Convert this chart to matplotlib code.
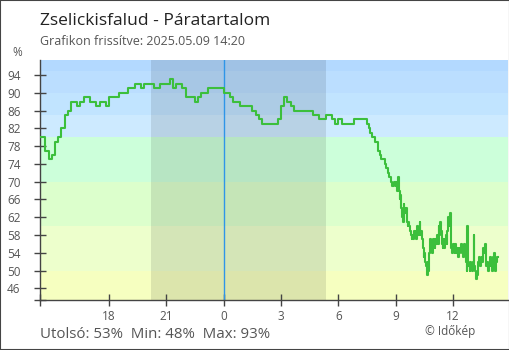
import numpy as np
import matplotlib.pyplot as plt
from matplotlib.patches import Rectangle

plt.rcParams['font.family'] = ['Open Sans', 'DejaVu Sans']

# humidity (%): 10 minute readings from 14:20 yesterday, 5 minute readings from 07:30,
# 2.5 minute readings from 09:00
humid_10min = [
    80, 80, 77, 75, 76, 79, 80, 82, 85, 86, 88, 88, 87, 88, 89, 89, 88, 88, 87, 88,
    88, 87, 89, 89, 89, 90, 90, 90, 91, 91, 92, 92, 91, 92, 92, 92, 91, 91, 92, 92,
    92, 93, 91, 92, 92, 91, 89, 89, 89, 88, 89, 90, 90, 91, 91, 91, 91, 91, 90, 90,
    89, 88, 88, 87, 87, 87, 87, 86, 85, 84, 83, 83, 83, 83, 83, 84, 87, 89, 88, 87,
    86, 86, 86, 86, 86, 86, 85, 85, 84, 84, 85, 85, 84, 83, 84, 83, 83, 83, 83, 84,
    84, 84, 84,
]
humid_5min = [
    83, 82, 81, 80, 80, 79, 79, 77, 76, 75, 75, 74, 73, 72, 71, 70, 69, 70,
]
humid_2min = [
    69, 70, 68, 71, 68, 66, 67, 64, 62, 61, 65, 64, 63, 64, 61, 60, 61, 60,
    59, 58, 57, 58, 57, 59, 58, 59, 57, 60, 58, 59, 61, 58, 59, 57, 55, 53,
    54, 52, 51, 49, 52, 50, 54, 57, 55, 56, 54, 57, 56, 55, 57, 56, 58, 56,
    60, 58, 61, 59, 56, 55, 57, 55, 57, 58, 56, 59, 62, 60, 63, 59, 55, 54,
    56, 55, 54, 56, 54, 55, 53, 55, 54, 55, 56, 54, 55, 53, 56, 54, 52, 50,
    60, 51, 51, 50, 52, 51, 50, 52, 58, 51, 50, 48, 49, 51, 52, 53, 51, 52,
    53, 52, 55, 54, 56, 54, 51, 52, 50, 51, 52, 53, 51, 50, 53, 52, 54, 50,
    52, 53, 53,
]
start_hour = -9 - 40 / 60      # 14:20 the day before
hours = np.concatenate([
    start_hour + np.arange(len(humid_10min)) / 6,
    7.5 + np.arange(len(humid_5min)) / 12,
    9.0 + np.arange(len(humid_2min)) / 24,
])
humidity = np.array(humid_10min + humid_5min + humid_2min)

tick_hours = [-6, -3, 0, 3, 6, 9, 12]
tick_labels = ['18', '21', '0', '3', '6', '9', '12']
y_ticks = list(range(46, 95, 4))

sunset, sunrise = -3.83, 5.35

# background bands by humidity level
bands = [
    (95, 100, '#b3d9ff'), (90, 95, '#bbdeff'), (85, 90, '#c1e4ff'), (80, 85, '#cdeaff'),
    (70, 80, '#ccffda'), (60, 70, '#dcffcc'), (50, 60, '#edffcc'), (0, 50, '#f6ffc0'),
]

fig = plt.figure(figsize=(5.1, 3.5), dpi=100)
ax = fig.add_axes([40 / 510, 50 / 350, 468 / 510, 240 / 350])
x_min, x_max = -9.62, 14.88
y_min, y_max = 43.37, 97.38

for lo, hi, col in bands:
    ax.axhspan(lo, hi, color=col, lw=0, zorder=0)
ax.axvspan(sunset, sunrise, color='black', alpha=0.1, lw=0, zorder=1)
ax.axvline(0, color='#2f95e8', lw=1, zorder=2)

ax.step(hours, humidity, where='post', color='#3cbf3c', lw=1.5, zorder=3)

ax.set_xlim(x_min, x_max)
ax.set_ylim(y_min, y_max)

ax.set_xticks([x_min] + tick_hours)
ax.set_xticklabels([''] + tick_labels)
ax.set_yticks([y_min] + y_ticks)
ax.set_yticklabels([''] + [str(v) for v in y_ticks])

ax.tick_params(axis='both', direction='inout', length=8, width=1, color='#444444',
               labelcolor='#555555', labelsize=8.5)
ax.tick_params(axis='y', pad=10)
ax.tick_params(axis='x', pad=3)

for side in ['top', 'right']:
    ax.spines[side].set_visible(False)
for side in ['left', 'bottom']:
    ax.spines[side].set_color('#444444')
    ax.spines[side].set_linewidth(1)

fig.text(40 / 510, 1 - 25 / 350, 'Zselickisfalud - Páratartalom', fontsize=12.5,
         color='#222222', va='baseline', ha='left')
fig.text(40 / 510, 1 - 45 / 350, 'Grafikon frissítve: 2025.05.09 14:20', fontsize=9,
         color='#555555', va='baseline', ha='left')
fig.text(17 / 510, 1 - 52 / 350, '%', fontsize=8.5, color='#555555', va='center', ha='center')
fig.text(40 / 510, 1 - 338.5 / 350,
         f'Utolsó: {humidity[-1]}%  Min: {humidity.min()}%  Max: {humidity.max()}%',
         fontsize=10.8, color='#555555', va='baseline', ha='left')
fig.text(425 / 510, 1 - 335 / 350, '© Időkép', fontsize=8.5, color='#555555',
         va='baseline', ha='left')

fig.patches.append(Rectangle((0, 0), 1, 1, transform=fig.transFigure, fill=False,
                             edgecolor='#444444', lw=1.5))

fig.savefig('out.png', dpi=100)
